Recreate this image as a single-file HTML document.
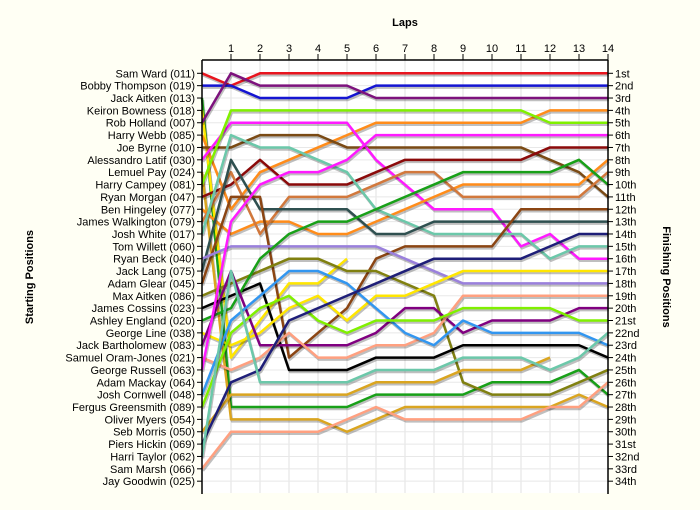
<!DOCTYPE html>
<html><head><meta charset="utf-8"><style>
html,body{margin:0;padding:0;background:#fffff4;}
svg{display:block;font-family:"Liberation Sans",sans-serif;}
</style></head><body>
<svg id="chart" width="700" height="510" xmlns="http://www.w3.org/2000/svg">
<rect x="0" y="0" width="700" height="510" fill="#fffff4"/>
<rect x="202" y="60" width="406" height="433" fill="#ffffff"/>
<g id="grid"></g><g id="series"></g><g id="axes"></g>
<text x="405" y="26" text-anchor="middle" font-size="11" font-weight="bold">Laps</text>
<text transform="translate(33,277) rotate(-90)" text-anchor="middle" font-size="11" font-weight="bold">Starting Positions</text>
<text transform="translate(663,277) rotate(90)" text-anchor="middle" font-size="11" font-weight="bold">Finishing Positions</text>
</svg>
<script>
const drivers = ["Sam Ward (011)","Bobby Thompson (019)","Jack Aitken (013)","Keiron Bowness (018)","Rob Holland (007)","Harry Webb (085)","Joe Byrne (010)","Alessandro Latif (030)","Lemuel Pay (024)","Harry Campey (081)","Ryan Morgan (047)","Ben Hingeley (077)","James Walkington (079)","Josh White (017)","Tom Willett (060)","Ryan Beck (040)","Jack Lang (075)","Adam Glear (045)","Max Aitken (086)","James Cossins (023)","Ashley England (020)","George Line (038)","Jack Bartholomew (083)","Samuel Oram-Jones (021)","George Russell (063)","Adam Mackay (064)","Josh Cornwell (048)","Fergus Greensmith (089)","Oliver Myers (054)","Seb Morris (050)","Piers Hickin (069)","Harri Taylor (062)","Sam Marsh (066)","Jay Goodwin (025)"];
const finishLabels = ["1st","2nd","3rd","4th","5th","6th","7th","8th","9th","10th","11th","12th","13th","14th","15th","16th","17th","18th","19th","20th","21st","22nd","23rd","24th","25th","26th","27th","28th","29th","30th","31st","32nd","33rd","34th"];
const lapLabels = [1,2,3,4,5,6,7,8,9,10,11,12,13,14];
const seriesNames = ["sam-ward","bobby-thompson","jack-aitken","keiron-bowness","rob-holland","harry-webb","joe-byrne","alessandro-latif","lemuel-pay","harry-campey","ryan-morgan","ben-hingeley","james-walkington","josh-white","jack-lang","adam-glear","ryan-beck","max-aitken","james-cossins","ashley-england","george-line","jack-bartholomew","samuel-oram-jones","george-russell","josh-cornwell","fergus-greensmith","seb-morris","piers-hickin","harri-taylor","sam-marsh"];
const positions = [
[1,2,1,1,1,1,1,1,1,1,1,1,1,1,1],
[2,2,3,3,3,3,2,2,2,2,2,2,2,2,2],
[3,28,28,28,28,28,27,27,27,27,26,26,26,25,27],
[4,24,21,18,18,16],
[5,1,2,2,2,2,3,3,3,3,3,3,3,3,3],
[6,12,9,8,7,6,5,5,5,5,5,5,4,4,4],
[7,7,6,6,6,7,7,7,7,7,7,7,8,9,11],
[8,5,5,5,5,5,8,10,12,12,12,15,14,16,16],
[9,29,29,29,29,30,29,28,28,28,28,28,28,27,28],
[10,4,4,4,4,4,4,4,4,4,4,4,5,5,5],
[11,10,8,10,10,10,9,8,8,8,8,8,7,7,7],
[12,14,13,13,14,14,13,12,11,10,10,10,10,10,8],
[13,9,14,11,11,11,10,9,9,11,11,11,11,11,9],
[14,6,7,7,8,9,12,13,14,14,14,14,16,15,15],
[17,8,12,12,12,12,14,14,13,13,13,13,13,13,13],
[18,11,11,24,22,20,16,15,15,15,15,12,12,12,12],
[16,15,15,15,15,15,15,16,17,18,18,18,18,18,18],
[19,18,17,16,16,17,17,18,19,26,27,27,27,26,25],
[20,19,18,25,25,25,24,24,24,23,23,23,23,23,24],
[21,20,16,14,13,13,12,11,10,9,9,9,9,8,10],
[22,23,22,20,19,21,19,19,18,17,17,17,17,17,17],
[23,17,23,23,23,23,22,20,20,22,21,21,21,20,20],
[24,25,24,22,24,24,23,23,22,19,19,19,19,19,19],
[25,13,10,9,9,8,6,6,6,6,6,6,6,6,6],
[27,21,19,17,17,18,20,22,23,21,22,22,22,22,23],
[28,22,20,19,21,22,21,21,21,20,20,20,20,21,21],
[30,27,27,27,27,27,26,26,26,25,25,25,24],
[31,26,25,21,20,19,18,17,16,16,16,16,15,14,14],
[32,17,26,26,26,26,25,25,25,24,24,24,25,24,22],
[33,30,30,30,30,29,28,29,29,29,29,29,28,28,26]
];
const colors = ["#e8141e","#1414d2","#18a018","#ffe600","#7d127d","#ff8c1a","#7a4a14","#ff1aff","#daa520","#80f000","#8b0a0a","#ff8c1a","#d2783c","#6cc8aa","#2f5050","#8b4513","#9a80dc","#808010","#000000","#18a018","#ffe600","#800080","#ffa080","#ff1aff","#3296f0","#80f000","#daa520","#1e1e78","#6cc8aa","#ffa080"];

const NS="http://www.w3.org/2000/svg";
function xs(l){return 202+29*l;}
function ys(r){return 73.3+12.36*(r-1);}
function mk(tag,attrs,parent){const e=document.createElementNS(NS,tag);for(const k in attrs)e.setAttribute(k,attrs[k]);parent.appendChild(e);return e;}
const grid=document.getElementById('grid'),axes=document.getElementById('axes'),ser=document.getElementById('series');
for(let l=1;l<=14;l++){const g=mk('line',{x1:xs(l),x2:xs(l),y1:60,y2:493,stroke:'#e2e2e2','stroke-width':1},grid);

}
for(let r=1;r<=34;r++){const g=mk('line',{x1:202,x2:608,y1:ys(r),y2:ys(r),stroke:'#e8e8e8','stroke-width':1},grid);

}
positions.forEach((p,i)=>{
  const pts=p.map((r,l)=>xs(l)+','+ys(r)).join(' ');
  const sh=mk('polyline',{points:p.map((r,l)=>(xs(l)+1)+','+(ys(r)+2)).join(' '),fill:'none',stroke:'#000','stroke-opacity':0.25,'stroke-width':2.5,'stroke-linejoin':'round'},ser);
  
  
  const pl=mk('polyline',{points:pts,fill:'none',stroke:colors[i],'stroke-width':2.5,'stroke-linejoin':'round'},ser);
  
  
});
let a=mk('line',{x1:202,x2:202,y1:60,y2:494,stroke:'#000','stroke-width':1.5},axes);


a=mk('line',{x1:608,x2:608,y1:60,y2:494,stroke:'#000','stroke-width':1.5},axes);


a=mk('line',{x1:202,x2:608,y1:60,y2:60,stroke:'#000','stroke-width':1.5},axes);


lapLabels.forEach(l=>{
  const t=mk('line',{x1:xs(l),x2:xs(l),y1:54,y2:60,stroke:'#000'},axes);
  
  
  const tx=mk('text',{x:xs(l),y:52,'text-anchor':'middle','font-size':11},axes);
  tx.textContent=l;
  
  
});
drivers.forEach((d,i)=>{
  const y=ys(i+1);
  const t=mk('line',{x1:197,x2:202,y1:y,y2:y,stroke:'#000'},axes);
  
  
  const tx=mk('text',{x:195,y:y+4,'text-anchor':'end','font-size':11},axes);
  tx.textContent=d;
  
  
});
finishLabels.forEach((f,i)=>{
  const y=ys(i+1);
  const t=mk('line',{x1:608,x2:613,y1:y,y2:y,stroke:'#000'},axes);
  
  
  const tx=mk('text',{x:615,y:y+4,'font-size':11},axes);
  tx.textContent=f;
  
  
});
</script>
</body></html>
